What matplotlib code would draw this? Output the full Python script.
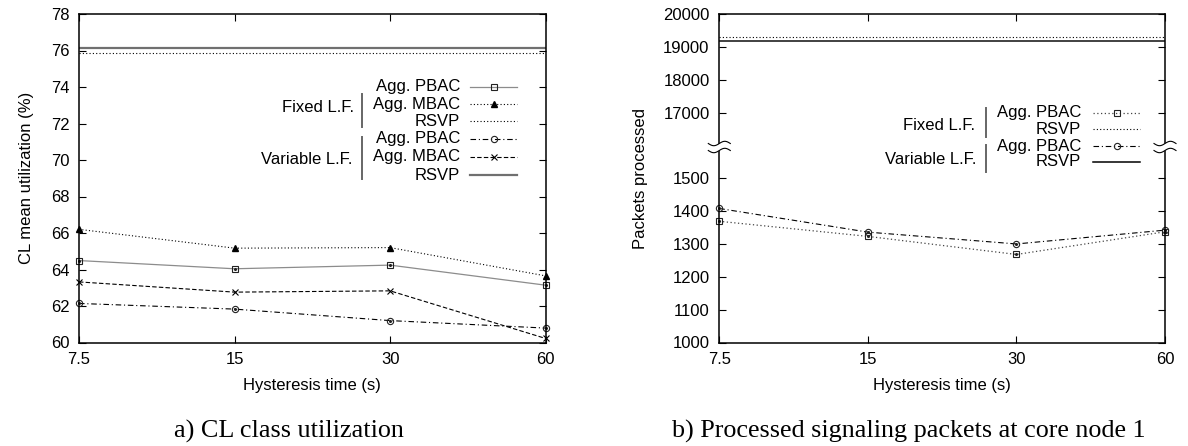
import numpy as np
import matplotlib
matplotlib.use('Agg')
import matplotlib.pyplot as plt
from matplotlib.lines import Line2D

plt.rcParams['font.family'] = ['Liberation Sans', 'DejaVu Sans']

hyst = ['7.5', '15', '30', '60']

# a) CL mean utilization (%)
util_pbac_fixed = [64.49, 64.04, 64.24, 63.14]
util_mbac_fixed = [66.20, 65.17, 65.20, 63.65]
util_rsvp_fixed = [75.85, 75.85, 75.85, 75.85]
util_pbac_var = [62.14, 61.83, 61.20, 60.79]
util_mbac_var = [63.32, 62.76, 62.83, 60.22]
util_rsvp_var = [76.12, 76.12, 76.12, 76.12]
util_ticks = [60, 62, 64, 66, 68, 70, 72, 74, 76, 78]

# b) processed signaling packets
pk_pbac_fixed = [1369, 1323, 1268, 1337]
pk_rsvp_fixed = [19310, 19310, 19310, 19310]
pk_pbac_var = [1408, 1336, 1300, 1342]
pk_rsvp_var = [19190, 19190, 19190, 19190]
pk_ticks = [1000, 1100, 1200, 1300, 1400, 1500, 17000, 18000, 19000, 20000]

W, H = 1188, 446
fig = plt.figure(figsize=(W / 100, H / 100), dpi=100)

FS = 12  # tick / label size
LFS = 12  # legend size


def box(x0, y0, x1, y1):
    return [x0 / W, 1 - y1 / H, (x1 - x0) / W, (y1 - y0) / H]


ax1 = fig.add_axes(box(79, 14, 545.7, 342.5))
ax2 = fig.add_axes(box(719.3, 14, 1165, 342.5))

dot = (0, (1, 2))
dashdot = (0, (5, 2.5, 1, 2.5))
dash = (0, (4, 2))

st_pbac_f = dict(color='#8c8c8c', lw=0.9, ls='-', marker='s', ms=4.5, mfc='none', mec='#222222', mew=0.8)
st_mbac_f = dict(color='black', lw=0.8, ls=dot, marker='^', ms=4, mfc='black', mec='black')
st_rsvp_f = dict(color='black', lw=0.8, ls=dot)
st_pbac_v = dict(color='black', lw=0.8, ls=dashdot, marker='o', ms=4.5, mfc='none', mec='#222222', mew=0.8)
st_mbac_v = dict(color='black', lw=0.8, ls=dash, marker='x', ms=4.5, mec='black', mew=0.8)
st_rsvp_v = dict(color='#707070', lw=1.6, ls='-')

st_pbac_f2 = dict(st_pbac_f, color='#444444', ls=dot)
st_rsvp_v2 = dict(color='#333333', lw=1.3, ls='-')
centre = dict(ls='none', marker='o', ms=1.2, mfc='#222222', mec='#222222', clip_on=False)

# ---- left panel
ax1.plot(hyst, util_rsvp_var, **st_rsvp_v)
ax1.plot(hyst, util_rsvp_fixed, **st_rsvp_f)
ax1.plot(hyst, util_pbac_fixed, clip_on=False, **st_pbac_f)
ax1.plot(hyst, util_pbac_fixed, **centre)
ax1.plot(hyst, util_mbac_fixed, clip_on=False, **st_mbac_f)
ax1.plot(hyst, util_pbac_var, clip_on=False, **st_pbac_v)
ax1.plot(hyst, util_pbac_var, **centre)
ax1.plot(hyst, util_mbac_var, clip_on=False, **st_mbac_v)
ax1.set_xlim(0, 3)
ax1.set_ylim(60, 78)
ax1.set_yticks(util_ticks)
ax1.set_ylabel('CL mean utilization (%)', fontsize=FS, labelpad=12)

# ---- right panel, broken y axis
def fwd(v):
    v = np.asarray(v, dtype=float)
    return np.where(v < 1600, v, np.where(v > 16000, v / 10.0, 1600.0))


def inv(y):
    y = np.asarray(y, dtype=float)
    return np.where(y <= 1600, y, y * 10.0)


ax2.set_yscale('function', functions=(fwd, inv))
ax2.plot(hyst, pk_rsvp_fixed, **st_rsvp_f)
ax2.plot(hyst, pk_rsvp_var, **st_rsvp_v2)
ax2.plot(hyst, pk_pbac_fixed, clip_on=False, **st_pbac_f2)
ax2.plot(hyst, pk_pbac_fixed, **centre)
ax2.plot(hyst, pk_pbac_var, clip_on=False, **st_pbac_v)
ax2.plot(hyst, pk_pbac_var, **centre)
ax2.set_xlim(0, 3)
ax2.set_ylim(1000, 20000)
ax2.set_yticks(pk_ticks)
ax2.set_yticklabels([str(t) for t in pk_ticks])
ax2.yaxis.set_minor_locator(matplotlib.ticker.NullLocator())
ax2.set_ylabel('Packets processed', fontsize=FS, labelpad=11)

for ax in (ax1, ax2):
    ax.set_xlabel('Hysteresis time (s)', fontsize=FS, labelpad=8)
    ax.tick_params(direction='in', top=True, right=True, length=5, width=0.8,
                   labelsize=FS, colors='black')
    ax.tick_params(axis='x', pad=7)
    ax.tick_params(axis='y', pad=7)
    for sp in ax.spines.values():
        sp.set_linewidth(1.1)

# break marks (figure pixel coords)
for bx in (719.3, 1165):
    xs = np.linspace(bx - 11, bx + 11, 40)
    wave = 2.2 * np.sin(2 * np.pi * (xs - xs[0]) / 22)
    yu = 143.5 + wave
    yl = 150.5 + wave
    fig.add_artist(plt.Polygon(np.column_stack([np.r_[xs, xs[::-1]] / W,
                                                1 - np.r_[yu, yl[::-1]] / H]),
                               closed=True, fc='white', ec='none',
                               transform=fig.transFigure, zorder=5))
    for yy in (yu, yl):
        fig.add_artist(Line2D(xs / W, 1 - yy / H, color='black', lw=0.8,
                              transform=fig.transFigure, zorder=6))


# ---- hand drawn legends
def leg_row(label, y, x_txt, x0, x1, xm, st):
    fig.text(x_txt / W, 1 - y / H, label, ha='right', va='center', fontsize=LFS)
    kw = {k: v for k, v in st.items() if not k.startswith('m')}
    fig.add_artist(Line2D([x0 / W, x1 / W], [1 - y / H] * 2, transform=fig.transFigure, **kw))
    if 'marker' in st:
        mk = {k: v for k, v in st.items() if k.startswith('m')}
        fig.add_artist(Line2D([xm / W], [1 - y / H], ls='none', transform=fig.transFigure, **mk))


def group(label, y_txt, x_txt, xb, yb0, yb1):
    fig.text(x_txt / W, 1 - y_txt / H, label, ha='right', va='center', fontsize=LFS)
    fig.add_artist(Line2D([xb / W] * 2, [1 - yb0 / H, 1 - yb1 / H], color='#666666',
                          lw=1.4, transform=fig.transFigure))


rows1 = [87, 104, 121, 139, 157, 175]
labs1 = ['Agg. PBAC', 'Agg. MBAC', 'RSVP', 'Agg. PBAC', 'Agg. MBAC', 'RSVP']
sts1 = [st_pbac_f, st_mbac_f, st_rsvp_f, st_pbac_v, st_mbac_v, st_rsvp_v]
for lab, y, st in zip(labs1, rows1, sts1):
    leg_row(lab, y, 460, 470, 517, 494, st)
group('Fixed L.F.', 107, 354, 362, 94, 127)
group('Variable L.F.', 160, 352, 362, 137, 179)

rows2 = [113, 129, 146, 162]
labs2 = ['Agg. PBAC', 'RSVP', 'Agg. PBAC', 'RSVP']
sts2 = [st_pbac_f2, st_rsvp_f, st_pbac_v, dict(color='black', lw=1.1, ls='-')]
for lab, y, st in zip(labs2, rows2, sts2):
    leg_row(lab, y, 1081, 1093, 1140, 1117, st)
group('Fixed L.F.', 125, 975, 986, 108, 137)
group('Variable L.F.', 160, 976, 986, 145, 172)

# captions
fig.text(289 / W, 1 - 431 / H, 'a) CL class utilization', family='Liberation Serif',
         fontsize=18.8, ha='center', va='center')
fig.text(909 / W, 1 - 431 / H, 'b) Processed signaling packets at core node 1',
         family='Liberation Serif', fontsize=18.8, ha='center', va='center')

fig.savefig('out.png', dpi=100)
